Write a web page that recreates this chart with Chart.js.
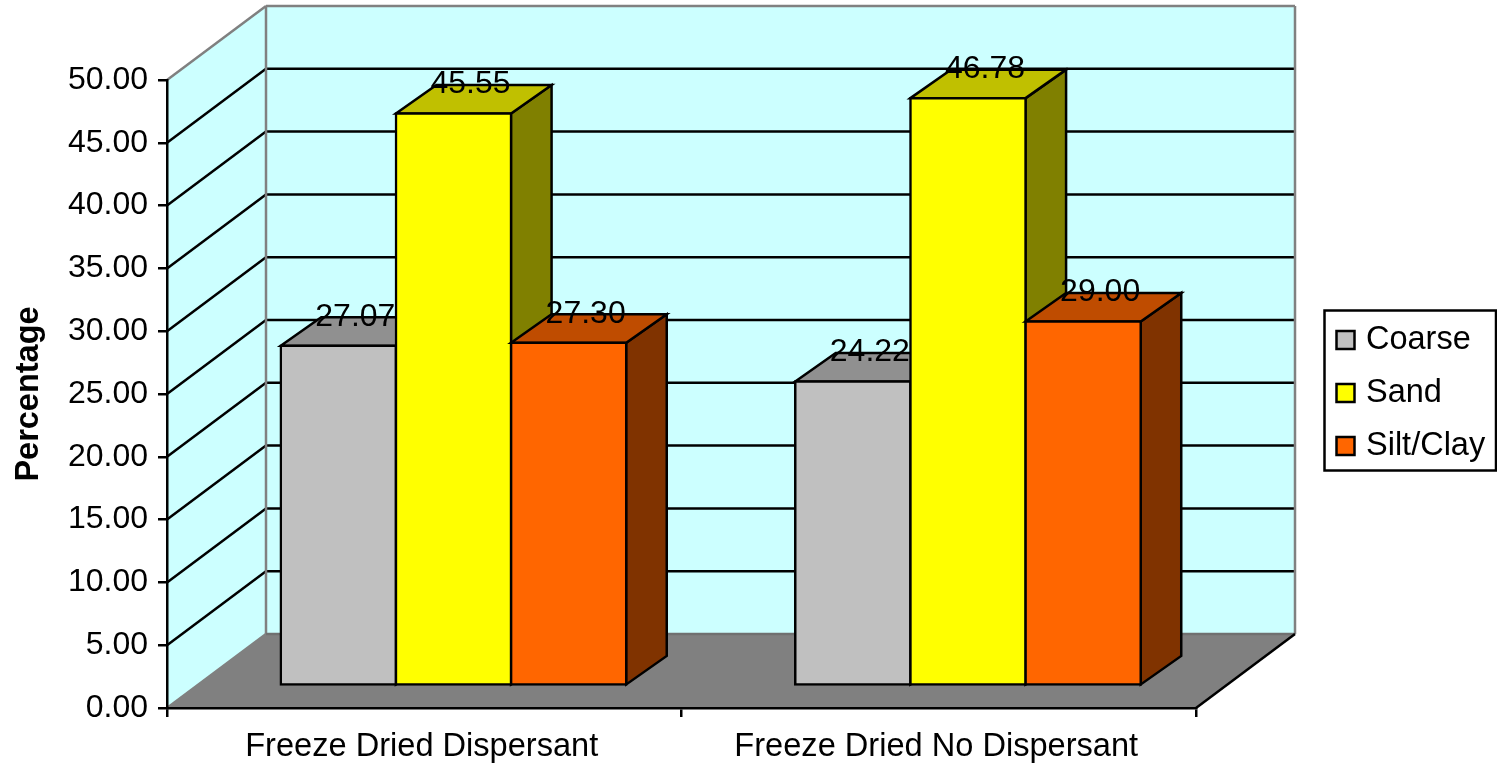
<!DOCTYPE html>
<html>
<head>
<meta charset="utf-8">
<title>Percentage by fraction</title>
<script src="https://cdn.jsdelivr.net/npm/chart.js@4/dist/chart.umd.min.js"></script>
<style>
  html, body { margin: 0; padding: 0; background: #fff; }
  canvas { display: block; }
</style>
</head>
<body>
<canvas id="myChart" width="1497" height="764"></canvas>
<script>
const categories = ['Freeze Dried Dispersant', 'Freeze Dried No Dispersant'];
const coarse = [27.07, 24.22];
const sand = [45.55, 46.78];
const siltClay = [27.30, 29.00];
const seriesNames = ['Coarse', 'Sand', 'Silt/Clay'];

const frontColors = ['#C0C0C0', '#FFFF00', '#FF6600'];
const topColors = ['#909090', '#C0C000', '#BF4C00'];
const sideColors = ['#606060', '#808000', '#803300'];

const wallDepth = { x: 99, y: 74 };    // front axis plane to back wall
const barShift = { x: 29.25, y: 22.3 }; // front axis plane to bar fronts
const barDepth = { x: 40.5, y: 28.5 };
const lineW = 2.5;

Chart.defaults.font.family = '"Liberation Sans", Arial, sans-serif';
Chart.defaults.font.size = 32;
Chart.defaults.color = '#000';

const poly = (ctx, pts, fill, stroke) => {
  ctx.beginPath();
  pts.forEach((p, i) => i ? ctx.lineTo(p[0], p[1]) : ctx.moveTo(p[0], p[1]));
  ctx.closePath();
  if (fill) { ctx.fillStyle = fill; ctx.fill(); }
  if (stroke) { ctx.strokeStyle = stroke; ctx.lineWidth = lineW; ctx.stroke(); }
};

const line = (ctx, x1, y1, x2, y2, color) => {
  ctx.beginPath();
  ctx.moveTo(x1, y1);
  ctx.lineTo(x2, y2);
  ctx.strokeStyle = color;
  ctx.lineWidth = lineW;
  ctx.stroke();
};

// walls, floor and gridlines behind the bars
const walls = {
  id: 'walls',
  beforeDraw(chart) {
    const { ctx, chartArea: a, scales } = chart;
    const dx = wallDepth.x, dy = wallDepth.y;
    ctx.save();
    poly(ctx, [[a.left, a.top], [a.left + dx, a.top - dy], [a.left + dx, a.bottom - dy], [a.left, a.bottom]], '#CCFFFF');
    poly(ctx, [[a.left + dx, a.top - dy], [a.right + dx, a.top - dy], [a.right + dx, a.bottom - dy], [a.left + dx, a.bottom - dy]], '#CCFFFF');
    poly(ctx, [[a.left, a.bottom], [a.left + dx, a.bottom - dy], [a.right + dx, a.bottom - dy], [a.right, a.bottom]], '#808080');
    scales.y.ticks.forEach(t => {
      if (t.value === 0 || t.value === 50) return;
      const y = scales.y.getPixelForValue(t.value);
      line(ctx, a.left, y, a.left + dx, y - dy, '#000');
      line(ctx, a.left + dx, y - dy, a.right + dx, y - dy, '#000');
    });
    line(ctx, a.left, a.top, a.left + dx, a.top - dy, '#808080');
    line(ctx, a.left + dx, a.top - dy, a.right + dx, a.top - dy, '#808080');
    line(ctx, a.left + dx, a.top - dy, a.left + dx, a.bottom - dy, '#808080');
    line(ctx, a.right + dx, a.top - dy, a.right + dx, a.bottom - dy, '#808080');
    line(ctx, a.left, a.bottom, a.left + dx, a.bottom - dy, '#808080');
    line(ctx, a.left + dx, a.bottom - dy, a.right + dx, a.bottom - dy, '#707070');
    line(ctx, a.right, a.bottom, a.right + dx, a.bottom - dy, '#000');
    ctx.restore();
  },
  // bars go left to right so every bar covers the side of the one before it
  beforeDatasetsDraw(chart) {
    const { ctx } = chart;
    const dx = barDepth.x, dy = barDepth.y;
    ctx.save();
    ctx.translate(barShift.x, -barShift.y);
    ctx.lineJoin = 'miter';
    chart.data.datasets.forEach((ds, i) => {
      const meta = chart.getDatasetMeta(i);
      meta.data.forEach(el => {
        const l = el.x - el.width / 2, r = el.x + el.width / 2;
        poly(ctx, [[r, el.y], [r + dx, el.y - dy], [r + dx, el.base - dy], [r, el.base]], sideColors[i], '#000');
        poly(ctx, [[l, el.y], [l + dx, el.y - dy], [r + dx, el.y - dy], [r, el.y]], topColors[i], '#000');
      });
      meta.controller.draw();
    });
    ctx.fillStyle = '#000';
    ctx.font = '32px "Liberation Sans", Arial, sans-serif';
    ctx.textAlign = 'center';
    ctx.textBaseline = 'middle';
    chart.data.datasets.forEach((ds, i) => {
      chart.getDatasetMeta(i).data.forEach((el, j) => {
        ctx.fillText(ds.data[j].toFixed(2), el.x + 17, el.y - 29);
      });
    });
    ctx.restore();
    return false;
  },
  afterDraw(chart) {
    const { ctx } = chart;
    ctx.save();
    ctx.strokeStyle = '#000';
    ctx.lineWidth = lineW;
    ctx.strokeRect(1324.5, 310.5, 171.5, 160);
    ctx.font = '32.5px "Liberation Sans", Arial, sans-serif';
    ctx.textAlign = 'left';
    ctx.textBaseline = 'middle';
    chart.data.datasets.forEach((ds, i) => {
      const y = 340 + i * 53;
      ctx.fillStyle = frontColors[i];
      ctx.fillRect(1336.5, y - 9, 18, 18);
      ctx.strokeRect(1336.5, y - 9, 18, 18);
      ctx.fillStyle = '#000';
      ctx.fillText(ds.label, 1366, y);
    });
    ctx.restore();
  }
};

new Chart(document.getElementById('myChart'), {
  type: 'bar',
  data: {
    labels: categories,
    datasets: [coarse, sand, siltClay].map((values, i) => ({
      label: seriesNames[i],
      data: values,
      backgroundColor: frontColors[i],
      borderColor: '#000',
      borderWidth: lineW,
      borderSkipped: false,
      inflateAmount: lineW / 2,
      categoryPercentage: 0.6715,
      barPercentage: 1
    }))
  },
  options: {
    responsive: false,
    animation: false,
    layout: { padding: { top: 80, right: 301, bottom: 0, left: 0 } },
    plugins: { legend: { display: false }, tooltip: { enabled: false } },
    scales: {
      x: {
        afterFit(scale) { scale.height = 56; },
        border: { display: true, color: '#000', width: lineW },
        grid: { drawOnChartArea: false, drawTicks: true, tickLength: 9, color: '#000', lineWidth: lineW },
        ticks: { padding: 10, labelOffset: -2.5, maxRotation: 0, autoSkip: false, color: '#000', font: { size: 32.6 } }
      },
      y: {
        min: 0,
        max: 50,
        afterFit(scale) { scale.width = 167; },
        border: { display: true, color: '#000', width: lineW },
        grid: { drawOnChartArea: false, drawTicks: true, tickLength: 9, color: '#000', lineWidth: lineW },
        ticks: { stepSize: 5, padding: 10, color: '#000', callback: v => v.toFixed(2) },
        title: { display: true, text: 'Percentage', color: '#000', font: { size: 32.5, weight: 'bold' }, padding: { top: 10, bottom: 0 } }
      }
    }
  },
  plugins: [walls]
});
</script>
</body>
</html>
